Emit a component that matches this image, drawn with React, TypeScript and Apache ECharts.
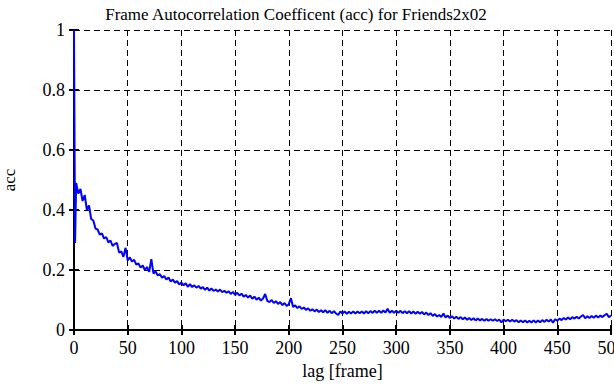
import React, { useEffect, useRef } from "react";
import * as echarts from "echarts";

const titleText = "Frame Autocorrelation Coefficent (acc) for Friends2x02";
const xName = "lag [frame]";
const yName = "acc";

// acc at lag 0 and lag 1, then lags 2..500 every 2 frames
const accStart = [1.0, 0.29];
const accRest = [
  0.49, 0.455, 0.47, 0.43, 0.45, 0.40, 0.415, 0.37, 0.365, 0.338,
  0.335, 0.318, 0.322, 0.305, 0.31, 0.292, 0.298, 0.28, 0.287, 0.29,
  0.258, 0.262, 0.244, 0.274, 0.232, 0.242, 0.228, 0.234, 0.218, 0.222,
  0.208, 0.215, 0.2, 0.21, 0.194, 0.236, 0.188, 0.195, 0.182, 0.186,
  0.174, 0.18, 0.168, 0.175, 0.162, 0.168, 0.158, 0.163, 0.152, 0.158,
  0.149, 0.156, 0.144, 0.153, 0.143, 0.149, 0.141, 0.147, 0.138, 0.143,
  0.134, 0.141, 0.131, 0.139, 0.13, 0.135, 0.128, 0.135, 0.126, 0.131,
  0.124, 0.129, 0.12, 0.127, 0.117, 0.124, 0.115, 0.121, 0.111, 0.117,
  0.108, 0.115, 0.104, 0.111, 0.101, 0.108, 0.098, 0.105, 0.12, 0.097,
  0.093, 0.1, 0.09, 0.096, 0.087, 0.093, 0.083, 0.09, 0.08, 0.086,
  0.106, 0.077, 0.082, 0.073, 0.079, 0.07, 0.075, 0.067, 0.072, 0.064,
  0.069, 0.062, 0.068, 0.06, 0.066, 0.059, 0.066, 0.057, 0.064, 0.056,
  0.063, 0.055, 0.05, 0.062, 0.055, 0.062, 0.054, 0.061, 0.055, 0.062,
  0.055, 0.062, 0.056, 0.062, 0.055, 0.063, 0.056, 0.063, 0.057, 0.064,
  0.057, 0.064, 0.057, 0.065, 0.058, 0.071, 0.057, 0.064, 0.057, 0.064,
  0.057, 0.064, 0.056, 0.063, 0.056, 0.063, 0.055, 0.062, 0.054, 0.061,
  0.054, 0.06, 0.052, 0.058, 0.05, 0.056, 0.047, 0.053, 0.045, 0.05,
  0.043, 0.055, 0.042, 0.048, 0.04, 0.046, 0.038, 0.044, 0.037, 0.043,
  0.036, 0.042, 0.034, 0.04, 0.033, 0.039, 0.032, 0.038, 0.032, 0.037,
  0.031, 0.037, 0.031, 0.036, 0.031, 0.036, 0.03, 0.035, 0.025, 0.035,
  0.029, 0.034, 0.028, 0.034, 0.028, 0.033, 0.026, 0.032, 0.026, 0.032,
  0.025, 0.031, 0.025, 0.032, 0.025, 0.032, 0.026, 0.033, 0.027, 0.034,
  0.028, 0.035, 0.024, 0.036, 0.031, 0.038, 0.033, 0.04, 0.035, 0.042,
  0.036, 0.043, 0.038, 0.044, 0.038, 0.045, 0.05, 0.039, 0.046, 0.04,
  0.047, 0.041, 0.048, 0.042, 0.048, 0.043, 0.049, 0.054, 0.043, 0.048,
];

const lags: number[] = [0, 1];
for (let i = 0; i < accRest.length; i++) lags.push(2 + 2 * i);
const acc = [...accStart, ...accRest];

const FONT = "Liberation Serif";

export default function App() {
  const ref = useRef<HTMLDivElement>(null);
  useEffect(() => {
    if (!ref.current) return;
    const chart = echarts.init(ref.current, undefined, { renderer: "svg" });
    const axisLine = { show: true, lineStyle: { color: "#000", width: 2 } };
    const tick = { show: true, inside: true, length: 5, lineStyle: { color: "#000", width: 2 } };
    const split = { show: true, lineStyle: { color: "#000", width: 1, type: [6, 4] as any } };
    chart.setOption({
      animation: false,
      backgroundColor: "#fff",
      textStyle: { fontFamily: FONT },
      title: {
        text: titleText,
        left: 291,
        textAlign: "center",
        top: 1,
        textStyle: { fontFamily: FONT, fontSize: 17, fontWeight: "normal", color: "#000" },
      },
      grid: { left: 74, right: 3, top: 30, bottom: 55, containLabel: false, outerBoundsMode: "none" },
      xAxis: [
        {
          type: "value",
          min: 0,
          max: 500,
          interval: 50,
          name: xName,
          nameLocation: "middle",
          nameGap: 31,
          nameTextStyle: { fontFamily: FONT, fontSize: 18, color: "#000" },
          axisLine,
          axisTick: tick,
          splitLine: split,
          axisLabel: { fontFamily: FONT, fontSize: 18, color: "#000", margin: 9 },
        },
        {
          type: "value",
          position: "top",
          min: 0,
          max: 500,
          interval: 50,
          axisLine,
          axisTick: tick,
          splitLine: { show: false },
          axisLabel: { show: false },
        },
      ],
      yAxis: [
        {
          type: "value",
          min: 0,
          max: 1,
          interval: 0.2,
          name: yName,
          nameLocation: "middle",
          nameGap: 56,
          nameTextStyle: { fontFamily: FONT, fontSize: 17, color: "#000" },
          axisLine,
          axisTick: tick,
          splitLine: split,
          axisLabel: { fontFamily: FONT, fontSize: 18, color: "#000", margin: 9 },
        },
        {
          type: "value",
          position: "right",
          min: 0,
          max: 1,
          interval: 0.2,
          axisLine,
          axisTick: tick,
          splitLine: { show: false },
          axisLabel: { show: false },
        },
      ],
      series: [
        {
          type: "line",
          data: lags.map((l, i) => [l, acc[i]]),
          showSymbol: false,
          symbol: "none",
          lineStyle: { color: "#0000ff", width: 2 },
          z: 5,
        },
      ],
    });
    return () => chart.dispose();
  }, []);
  return (
    <div
      ref={ref}
      style={{ position: "fixed", left: 0, top: 0, width: 614, height: 385 }}
    />
  );
}
